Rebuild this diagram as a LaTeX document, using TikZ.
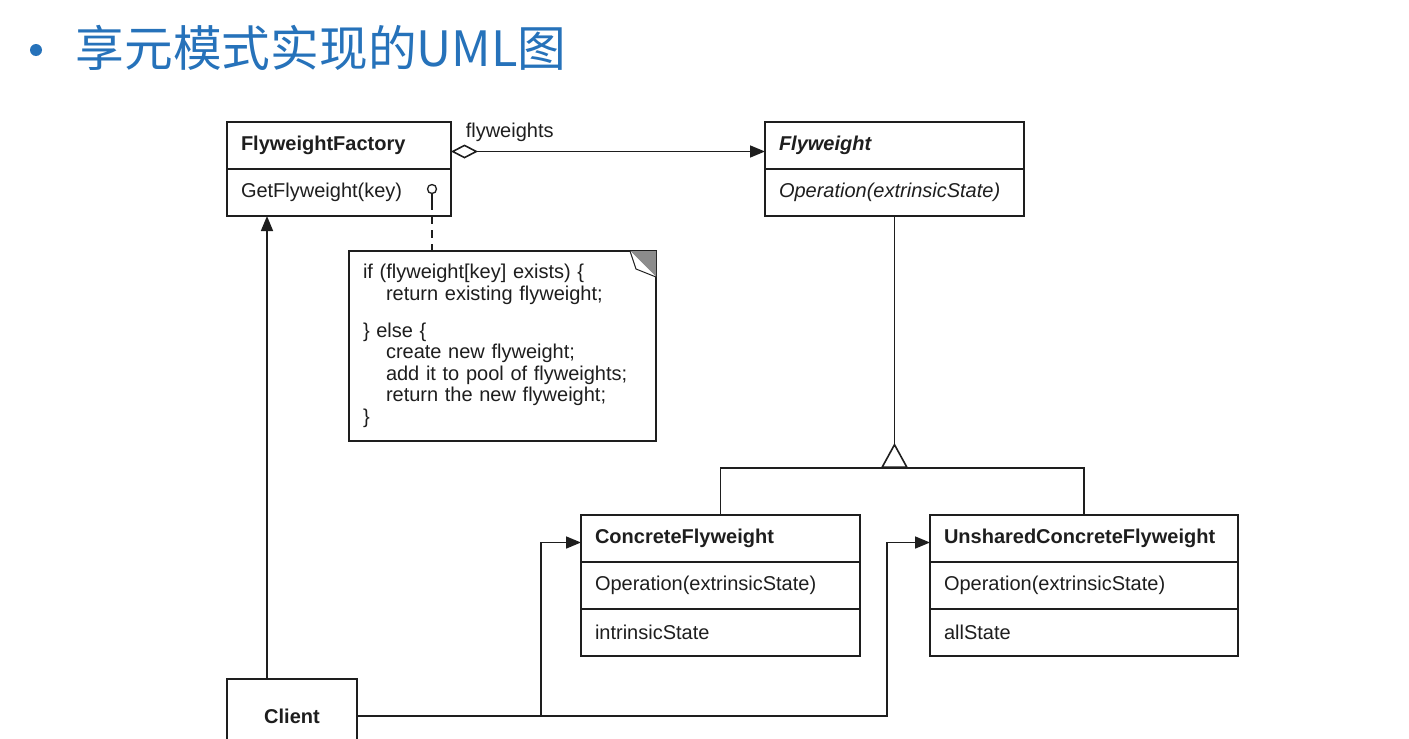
\documentclass[tikz,border=0pt]{standalone}
\usepackage{fontspec}
\setmainfont{Liberation Sans}
\newfontfamily\cjk{Noto Sans CJK SC}
\usepackage{tikz}
\definecolor{Ttl}{RGB}{38,114,186}
\definecolor{Ink}{RGB}{30,30,30}
\definecolor{Fold}{RGB}{140,140,140}
\usetikzlibrary{positioning, arrows.meta}

\begin{document}
\begin{tikzpicture}[x=1pt, y=-1pt, line width=1.6pt, draw=Ink, text=Ink,
    umlrow/.style={draw, outer sep=0pt, minimum height=47pt, inner xsep=14pt,
                   inner ysep=0pt, text width=#1, align=left,
                   font=\fontsize{20}{24}\selectfont},
    umlname/.style={umlrow=#1, font=\fontsize{20}{24}\selectfont\bfseries},
    nav/.style={-{Triangle[length=15pt,width=12pt]}}]
    \useasboundingbox (0,0) rectangle (1409,739);
    \clip (0,0) rectangle (1409,739);
    \fill[white] (0,0) rectangle (1409,739);

    % title
    \node[circle, fill=Ttl, minimum size=12pt, inner sep=0pt] (dot) at (36,50) {};
    \node[anchor=west, inner sep=0pt, text=Ttl,
          font=\cjk\fontsize{48.7}{52}\selectfont] (title) at (75,48) {享元模式实现的UML图};

    % classes
    \node[umlname=196pt, anchor=north west] (ffname) at (227,122) {FlyweightFactory};
    \node[umlrow=196pt, below=0pt of ffname] (ffop) {GetFlyweight(key)};

    \node[umlname=231pt, anchor=north west,
          font=\fontsize{20}{24}\selectfont\bfseries\itshape] (fwname) at (765,122) {Flyweight};
    \node[umlrow=231pt, below=0pt of fwname, font=\fontsize{20}{24}\selectfont\itshape] (fwop)
          {Operation(extrinsicState)};

    \node[umlname=251pt, anchor=north west] (cfname) at (581,515) {ConcreteFlyweight};
    \node[umlrow=251pt, below=0pt of cfname] (cfop) {Operation(extrinsicState)};
    \node[umlrow=251pt, below=0pt of cfop] (cfstate) {intrinsicState};

    \node[umlname=280pt, anchor=north west] (unname) at (930,515) {UnsharedConcreteFlyweight};
    \node[umlrow=280pt, below=0pt of unname] (unop) {Operation(extrinsicState)};
    \node[umlrow=280pt, below=0pt of unop] (unstate) {allState};

    \node[draw, outer sep=0pt, minimum width=130pt, minimum height=74pt,
          font=\fontsize{20}{24}\selectfont\bfseries] (client) at (292,716) {Client};

    % note
    \node[draw, outer sep=0pt, anchor=north west, minimum width=307pt, minimum height=190pt,
          text width=279pt, inner xsep=14pt, align=left,
          font=\fontsize{20}{21.5}\selectfont] (note) at (349,251)
          {if (flyweight[key] exists) \{\\
           \hspace*{23pt}return existing flyweight;\\[15.5pt]
           \} else \{\\
           \hspace*{23pt}create new flyweight;\\
           \hspace*{23pt}add it to pool of flyweights;\\
           \hspace*{23pt}return the new flyweight;\\
           \}};
    \fill[Fold] ([xshift=-26pt]note.north east) -- (note.north east)
                -- ([yshift=-26pt]note.north east) -- cycle;
    \draw[line width=1pt, fill=white] ([xshift=-26pt]note.north east)
                -- ([xshift=-20pt,yshift=-18pt]note.north east)
                -- ([yshift=-26pt]note.north east);

    \node[circle, draw, minimum size=9pt, inner sep=0pt, line width=1.3pt] (pin) at (432,189) {};
    \draw (pin.south) -- ++(0,8) coordinate (pinend);
    \draw[dash pattern=on 8pt off 6pt] (pinend) -- (pinend |- note.north);

    % associations
    \draw[{Diamond[open,length=27pt,width=14pt]}-{Triangle[length=15pt,width=12pt]}]
          ([yshift=-6pt]ffname.east) -- ([yshift=-6pt]fwname.west);
    \node[anchor=base west, inner sep=0pt, font=\fontsize{20}{24}\selectfont] (role)
          at (465,137) {flyweights};

    % generalization
    \coordinate (junc) at (fwop.south |- 0,468);
    \draw[{Triangle[open,reversed,length=25pt,width=27pt]}-] (junc) -- (fwop.south);
    \draw (cfname.north) |- (junc) -| (unname.north);

    % client
    \coordinate (cup) at ([xshift=-25pt]client.north);
    \draw[nav] (cup) -- (cup |- ffop.south);
    \coordinate (fork1) at (541,717);
    \coordinate (fork2) at (887,717);
    \draw[nav] (client.east) -- (client.east -| fork1) |- ([yshift=-4pt]cfname.west);
    \draw[nav] (client.east -| fork1) -- (client.east -| fork2) |- ([yshift=-4pt]unname.west);
\end{tikzpicture}
\end{document}
